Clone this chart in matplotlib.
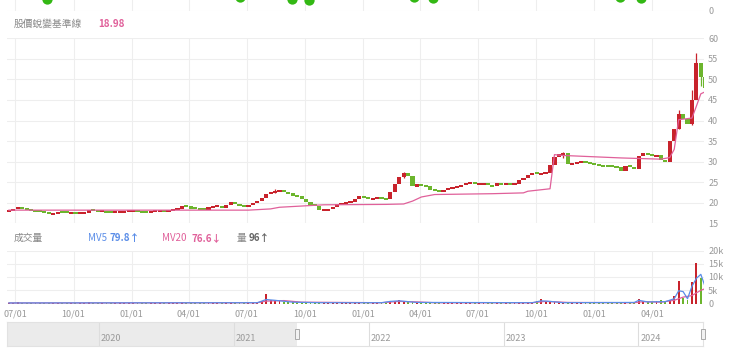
import matplotlib
matplotlib.use("Agg")
import matplotlib.pyplot as plt
import matplotlib.dates as mdates
from matplotlib.patches import Rectangle
from matplotlib.transforms import blended_transform_factory
import numpy as np
import pandas as pd

plt.rcParams["font.family"] = ["Noto Sans CJK TC", "DejaVu Sans"]

W, H = 740, 353

# weekly candles, first week starting 2021-06-21
WEEK_START = "2021-06-21"
FIRST_OPEN = 18.0
CLOSE = [
    18.2, 18.5, 18.8, 18.5, 18.3, 18.1, 18.0, 17.8, 17.5, 17.3,
    17.4, 17.8, 17.7, 17.6, 17.6, 17.5, 17.6, 17.6, 18.2, 18.1,
    18.0, 18.0, 17.7, 17.6, 17.7, 17.8, 17.9, 18.0, 18.0, 17.9,
    17.8, 17.7, 17.8, 18.0, 18.1, 18.0, 18.0, 18.3, 18.6, 19.2,
    19.0, 18.7, 18.6, 18.5, 18.4, 18.8, 19.0, 19.2, 18.7, 19.4,
    20.1, 19.6, 19.2, 19.0, 19.5, 20.0, 20.4, 21.2, 22.2, 22.6,
    22.8, 23.0, 22.5, 22.2, 21.8, 21.6, 21.0, 20.2, 19.5, 19.2,
    18.2, 18.3, 18.4, 19.0, 19.6, 19.8, 20.0, 20.3, 20.8, 21.6,
    21.3, 20.8, 21.0, 21.2, 21.0, 20.9, 22.5, 24.5, 26.3, 27.3,
    26.5, 24.0, 24.4, 24.2, 24.0, 23.2, 23.0, 22.7, 23.2, 23.6,
    23.8, 24.0, 24.3, 24.6, 24.8, 24.6, 24.6, 24.7, 24.3, 24.0,
    24.8, 24.5, 24.6, 24.4, 24.6, 25.5, 26.0, 26.8, 27.3, 27.0,
    27.0, 27.3, 29.3, 31.2, 31.8, 32.0, 29.4, 29.6, 29.8, 29.9,
    29.7, 29.5, 29.3, 29.1, 29.0, 28.9, 28.8, 28.7, 27.8, 29.0,
    28.8, 28.3, 31.3, 32.0, 31.6, 31.4, 31.5, 30.3, 30.0, 35.0,
    38.0, 41.5, 40.4, 39.2, 45.0, 54.0, 50.5, 48.0,
]
WICK_WEEKS = [60, 89, 125, 151, 154, 155, 156, 157]
WICK_HIGH = [23.3, 27.6, 32.4, 42.6, 47.5, 56.4, 54.0, 49.5]
WICK_LOW = [22.4, 26.0, 31.0, 38.0, 39.0, 47.0, 48.5, 46.0]

# 股價蛻變基準線 breakpoints (week index, value)
BASE_WEEKS = [0, 54, 59, 61, 66, 71, 85, 89, 91, 93, 96, 109, 116, 117,
              122, 123, 125, 138, 147, 149, 150, 151, 154, 155, 156, 157]
BASE_VALUES = [18.2, 18.2, 18.5, 18.9, 19.2, 19.5, 19.6, 19.7, 20.4, 21.4,
               22.0, 22.2, 22.4, 22.8, 23.4, 31.7, 31.5, 30.9, 30.6, 31.0,
               33.0, 40.2, 40.6, 43.5, 46.5, 47.0]

# volume in thousands, one per week
VOLUME_K = [
    0.3, 0.2, 0.4, 0.2, 0.2, 0.3, 0.2, 0.2, 0.3, 0.2,
    0.2, 0.2, 0.3, 0.2, 0.2, 0.2, 0.2, 0.3, 0.4, 0.2,
    0.2, 0.2, 0.2, 0.2, 0.2, 0.2, 0.2, 0.2, 0.2, 0.2,
    0.2, 0.2, 0.2, 0.2, 0.2, 0.2, 0.2, 0.3, 0.3, 0.5,
    0.3, 0.2, 0.2, 0.2, 0.2, 0.3, 0.2, 0.2, 0.2, 0.4,
    0.6, 0.3, 0.2, 0.2, 0.3, 0.4,
    0.6, 1.0, 3.5, 1.5, 1.1, 0.8, 0.6, 0.5, 0.4, 0.4,
    0.3, 0.3, 0.3, 0.3, 0.4, 0.2, 0.2, 0.3, 0.3, 0.3,
    0.2, 0.2, 0.3, 0.4, 0.3, 0.2, 0.2, 0.2, 0.2, 0.3,
    0.8, 1.0, 1.3, 1.1, 0.8, 0.5, 0.4, 0.3, 0.3, 0.3,
    0.2, 0.2, 0.2, 0.2, 0.2, 0.2, 0.2, 0.2, 0.2, 0.2,
    0.2, 0.2, 0.2, 0.2, 0.2, 0.2, 0.2, 0.2, 0.3, 0.4,
    0.4, 0.5, 0.6, 0.9, 1.8, 1.0, 0.8, 0.7, 0.5, 0.4,
    0.4, 0.3, 0.3, 0.2, 0.2, 0.2, 0.2, 0.2, 0.2, 0.2,
    0.2, 0.2, 0.3, 0.2, 0.2, 0.3,
    1.8, 1.0, 0.5, 0.4, 0.8, 1.5, 1.0,
    1.5, 3.0, 8.5, 2.0, 1.5, 8.2, 15.3, 9.5, 5.5,
]
MV5_WEEKS = [0, 56, 58, 60, 64, 70, 84, 86, 88, 92, 118, 120, 122, 125,
             141, 142, 144, 148, 150, 151, 152, 153, 154, 155, 156, 157]
MV5_K = [0.2, 0.3, 1.5, 1.2, 0.5, 0.3, 0.3, 0.8, 1.0, 0.4, 0.3, 1.0, 0.8, 0.3,
         0.4, 1.2, 0.6, 0.7, 1.8, 4.8, 4.5, 1.8, 6.5, 9.5, 11.0, 6.2]
MV20_WEEKS = [0, 56, 58, 62, 66, 84, 88, 92, 96, 118, 121, 126, 141, 143,
              147, 150, 152, 154, 156, 157]
MV20_K = [0.2, 0.3, 0.9, 1.1, 0.5, 0.3, 0.8, 0.6, 0.3, 0.3, 0.8, 0.4, 0.3, 0.7,
          0.5, 1.2, 2.4, 3.0, 5.0, 5.6]

# markers of the indicator strip cut off at the top
STRIP_DATES = ["2021-08-20", "2022-06-21", "2022-09-11", "2022-10-08",
               "2023-03-23", "2023-04-22", "2024-02-10", "2024-03-14"]
STRIP_LEVEL = [10.6, 12.5, 11.0, 10.3, 12.3, 11.5, 12.4, 12.2]

QUARTERS = ["2021-07-01", "2021-10-01", "2022-01-01", "2022-04-01",
            "2022-07-01", "2022-10-01", "2023-01-01", "2023-04-01",
            "2023-07-01", "2023-10-01", "2024-01-01", "2024-04-01"]
PRICE_TICKS = [15, 20, 25, 30, 35, 40, 45, 50, 55, 60]
VOL_TICKS = [0, 5, 10, 15, 20]
VOL_LABELS = ["0", "5k", "10k", "15k", "20k"]
NAV_YEARS = ["2020", "2021", "2022", "2023", "2024"]

RED = "#c8232c"
GREEN = "#6cb52d"
PINK = "#e0609a"
BLUE = "#5a8de8"
GRID = "#eeeeee"
TICK = "#999999"


def rect(l, t, r, b):
    return [l / W, 1 - b / H, (r - l) / W, (b - t) / H]


def style(ax, xlim):
    ax.set_xlim(*xlim)
    for s in ax.spines.values():
        s.set_visible(False)
    ax.yaxis.tick_right()
    ax.tick_params(length=0, labelsize=6.5, colors=TICK, pad=3)
    ax.set_axisbelow(True)


def main():
    weeks = pd.date_range(WEEK_START, periods=len(CLOSE), freq="7D")
    close = np.array(CLOSE)
    opens = np.concatenate([[FIRST_OPEN], close[:-1]])
    up = close >= opens
    colors = np.where(up, RED, GREEN)
    quarters = pd.to_datetime(QUARTERS)
    xlim = (pd.Timestamp("2021-06-18"), pd.Timestamp("2024-06-22"))

    fig = plt.figure(figsize=(W / 100, H / 100), dpi=100)

    # top strip
    ax0 = fig.add_axes(rect(7, 0, 704, 11))
    style(ax0, xlim)
    ax0.set_ylim(0, 10)
    ax0.set_yticks([0])
    ax0.set_xticks(quarters)
    ax0.set_xticklabels([])
    ax0.grid(True, color=GRID, linewidth=0.8)
    ax0.scatter(pd.to_datetime(STRIP_DATES), STRIP_LEVEL, s=55, color="#33b814",
                linewidths=0, zorder=3)

    # price
    ax1 = fig.add_axes(rect(7, 38.3, 704, 223.3))
    style(ax1, xlim)
    ax1.set_ylim(15, 60)
    ax1.set_yticks(PRICE_TICKS)
    ax1.set_xticks(quarters)
    ax1.set_xticklabels([])
    ax1.grid(True, color=GRID, linewidth=0.8)
    mid = (opens + close) / 2
    body_h = np.maximum(np.abs(close - opens), 0.5)
    body_lo = mid - body_h / 2
    for i in range(len(WICK_WEEKS)):
        w = WICK_WEEKS[i]
        ax1.vlines(weeks[w], WICK_LOW[i], WICK_HIGH[i], color=colors[w],
                   linewidth=0.9, zorder=2)
    ax1.bar(weeks, body_h, bottom=body_lo, width=6.6, color=colors,
            linewidth=0, zorder=3)
    ax1.plot(weeks[BASE_WEEKS], BASE_VALUES, color=PINK, linewidth=0.9, zorder=4)

    # volume
    ax2 = fig.add_axes(rect(7, 250.5, 704, 303.5))
    style(ax2, xlim)
    ax2.set_ylim(0, 20)
    ax2.set_yticks(VOL_TICKS)
    ax2.set_yticklabels(VOL_LABELS)
    ax2.set_xticks(quarters)
    ax2.xaxis.set_major_formatter(mdates.DateFormatter("%m/%d"))
    ax2.tick_params(axis="x", pad=4)
    ax2.grid(True, color=GRID, linewidth=0.8)
    ax2.bar(weeks, VOLUME_K, width=3.0, color=colors, linewidth=0, zorder=2)
    ax2.plot(weeks[MV20_WEEKS], MV20_K, color=PINK, linewidth=0.9, zorder=3)
    ax2.plot(weeks[MV5_WEEKS], MV5_K, color=BLUE, linewidth=0.9, zorder=4)

    # navigator
    ax3 = fig.add_axes(rect(7, 322, 703, 346))
    nav_start, nav_end = pd.Timestamp("2019-04-28"), pd.Timestamp("2024-06-24")
    ax3.set_xlim(nav_start, nav_end)
    ax3.set_ylim(0, 1)
    ax3.set_xticks([])
    ax3.set_yticks([])
    for s in ax3.spines.values():
        s.set_color("#e2e2e2")
        s.set_linewidth(0.8)
    ax3.axvspan(nav_start, weeks[0], color="#ebebeb", linewidth=0)
    for yr in NAV_YEARS:
        d = pd.Timestamp(yr + "-01-01")
        ax3.axvline(d, color="#dddddd", linewidth=0.8)
        ax3.text(d + pd.Timedelta(days=6), 0.12, yr, fontsize=6.5, color=TICK,
                 ha="left", va="bottom")
    tr = blended_transform_factory(ax3.transData, ax3.transAxes)
    for d in [weeks[0], nav_end]:
        x0 = mdates.date2num(d) - 6
        ax3.add_patch(Rectangle((x0, 0.3), 12, 0.42, transform=tr,
                                facecolor="#f2f2f2", edgecolor="#aaaaaa",
                                linewidth=0.7, clip_on=False, zorder=5))

    # header texts
    fs = 7
    fig.text(14 / W, 1 - 24 / H, "股價蛻變基準線", fontsize=fs, color="#888888",
             va="center")
    fig.text(98 / W, 1 - 24 / H, "18.98", fontsize=fs, color=PINK,
             fontweight="bold", va="center")
    yv = 1 - 238 / H
    fig.text(14 / W, yv, "成交量", fontsize=fs, color="#888888", va="center")
    fig.text(88 / W, yv, "MV5", fontsize=fs, color=BLUE, va="center")
    fig.text(110 / W, yv, "79.8↑", fontsize=fs, color=BLUE, fontweight="bold",
             va="center")
    fig.text(162 / W, yv, "MV20", fontsize=fs, color=PINK, va="center")
    fig.text(192 / W, yv, "76.6↓", fontsize=fs, color=PINK, fontweight="bold",
             va="center")
    fig.text(237 / W, yv, "量", fontsize=fs, color="#888888", va="center")
    fig.text(249 / W, yv, "96↑", fontsize=fs, color="#666666",
             fontweight="bold", va="center")

    fig.savefig("out.png", dpi=100)


if __name__ == "__main__":
    main()
